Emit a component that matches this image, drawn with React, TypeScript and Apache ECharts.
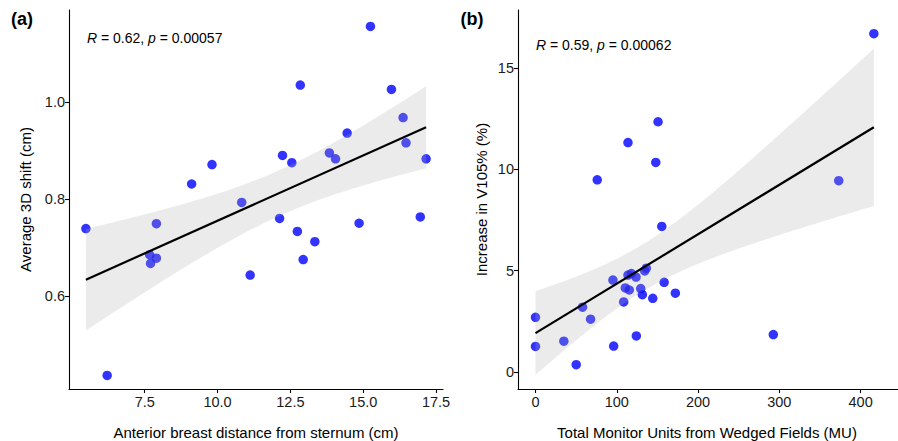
import React, { useEffect, useRef } from "react";
import * as echarts from "echarts";

// Panel (a): anterior breast distance (cm) vs average 3D shift (cm)
const distanceA = [15.25, 12.84, 15.97, 16.37, 14.45, 16.47, 17.16, 13.84, 14.05, 12.23, 12.55, 9.81, 9.11, 10.83, 5.48, 7.90, 7.67, 7.90, 7.70, 11.12, 12.13, 12.74, 13.34, 12.94, 14.86, 16.96, 6.21];
const shiftA = [1.156, 1.035, 1.026, 0.968, 0.936, 0.916, 0.883, 0.895, 0.883, 0.890, 0.875, 0.871, 0.831, 0.793, 0.739, 0.749, 0.685, 0.678, 0.667, 0.643, 0.760, 0.733, 0.712, 0.675, 0.750, 0.763, 0.436];

// Panel (b): total MU from wedged fields vs increase in V105% (%)
const muB = [416.3, 150.8, 113.8, 148.0, 76.0, 373.1, 155.4, 0, 0, 34.9, 50.1, 57.9, 67.8, 96.2, 95.3, 108.5, 110.5, 115.4, 113.8, 118.0, 123.7, 129.5, 131.5, 134.4, 136.4, 144.3, 158.3, 172.1, 124.1, 292.6];
const v105B = [16.70, 12.35, 11.32, 10.34, 9.48, 9.44, 7.18, 2.69, 1.25, 1.51, 0.35, 3.19, 2.60, 1.27, 4.53, 3.45, 4.14, 4.04, 4.78, 4.85, 4.68, 4.11, 3.81, 4.98, 5.12, 3.63, 4.42, 3.88, 1.77, 1.84];

const ticksAX = [7.5, 10, 12.5, 15, 17.5];
const ticksAY = [0.6, 0.8, 1.0];
const ticksBX = [0, 100, 200, 300, 400];
const ticksBY = [0, 5, 10, 15];

const labelA = "{i|R} = 0.62, {i|p} = 0.00057";
const labelB = "{i|R} = 0.59, {i|p} = 0.00062";

const FONT = "'Liberation Sans', Arial, sans-serif";

function tQuantile(df: number) {
  const z = 1.959964;
  const z3 = z * z * z, z5 = z3 * z * z, z7 = z5 * z * z;
  return (
    z +
    (z3 + z) / (4 * df) +
    (5 * z5 + 16 * z3 + 3 * z) / (96 * df * df) +
    (3 * z7 + 19 * z5 + 17 * z3 - 15 * z) / (384 * df * df * df)
  );
}

function fitLm(xs: number[], ys: number[]) {
  const n = xs.length;
  const mx = xs.reduce((a, b) => a + b, 0) / n;
  const my = ys.reduce((a, b) => a + b, 0) / n;
  let sxx = 0, sxy = 0;
  for (let i = 0; i < n; i++) {
    sxx += (xs[i] - mx) ** 2;
    sxy += (xs[i] - mx) * (ys[i] - my);
  }
  const b = sxy / sxx;
  const a = my - b * mx;
  let sse = 0;
  for (let i = 0; i < n; i++) sse += (ys[i] - a - b * xs[i]) ** 2;
  const s = Math.sqrt(sse / (n - 2));
  const t = tQuantile(n - 2);
  const xmin = Math.min(...xs), xmax = Math.max(...xs);
  const upper: number[][] = [], lower: number[][] = [];
  const N = 80;
  for (let k = 0; k < N; k++) {
    const x = xmin + ((xmax - xmin) * k) / (N - 1);
    const yh = a + b * x;
    const se = s * Math.sqrt(1 / n + (x - mx) ** 2 / sxx);
    upper.push([x, yh + t * se]);
    lower.push([x, yh - t * se]);
  }
  return {
    line: [[xmin, a + b * xmin], [xmax, a + b * xmax]],
    upper,
    lower,
  };
}

function makeAxis(gridIndex: number, min: number, max: number, ticks: number[], fmt: (v: number) => string, isX: boolean) {
  return {
    type: "value",
    gridIndex,
    min,
    max,
    splitLine: { show: false },
    axisLine: { show: true, onZero: false, lineStyle: { color: "#000", width: 1.1 } },
    axisTick: { show: true, length: 4, lineStyle: { color: "#000", width: 1.1 }, customValues: ticks },
    axisLabel: {
      show: true,
      customValues: ticks,
      formatter: (v: number) => fmt(v),
      color: "#1a1a1a",
      fontFamily: FONT,
      fontSize: 14.5,
      margin: isX ? 5 : 4,
    },
  };
}

export default function App() {
  const ref = useRef<HTMLDivElement>(null);
  useEffect(() => {
    if (!ref.current) return;
    const chart = echarts.init(ref.current, null, { renderer: "svg" });
    const fa = fitLm(distanceA, shiftA);
    const fb = fitLm(muB, v105B);

    const band = (fit: any, idx: number) => ({
      type: "custom",
      xAxisIndex: idx,
      yAxisIndex: idx,
      z: 3,
      silent: true,
      data: [fit.line[0]],
      renderItem: (params: any, api: any) => {
        const pts = fit.upper.map((p: number[]) => api.coord(p));
        const low = fit.lower.slice().reverse().map((p: number[]) => api.coord(p));
        return {
          type: "polygon",
          shape: { points: pts.concat(low) },
          style: { fill: "rgb(170,170,170)", opacity: 0.235 },
        };
      },
    });

    const scatter = (xs: number[], ys: number[], idx: number) => ({
      type: "scatter",
      xAxisIndex: idx,
      yAxisIndex: idx,
      z: 2,
      symbolSize: 9.5,
      itemStyle: { color: "#0000FF" },
      data: xs.map((x, i) => [x, ys[i]]),
    });

    const line = (fit: any, idx: number) => ({
      type: "line",
      xAxisIndex: idx,
      yAxisIndex: idx,
      z: 4,
      showSymbol: false,
      symbol: "none",
      lineStyle: { color: "#000", width: 2.2 },
      data: fit.line,
    });

    const txt = (x: number, y: number, text: string, extra: any = {}) => ({
      type: "text",
      x,
      y,
      silent: true,
      style: {
        text,
        fill: "#000",
        fontFamily: FONT,
        fontSize: 15,
        align: "center",
        verticalAlign: "middle",
        ...extra,
      },
    });

    chart.setOption({
      animation: false,
      backgroundColor: "#fff",
      grid: [
        { left: 69, top: 10, width: 374, height: 379 },
        { left: 518, top: 10, width: 380, height: 379 },
      ],
      xAxis: [
        makeAxis(0, 4.9, 17.74, ticksAX, (v) => v.toFixed(1), true),
        makeAxis(1, -21.5, 446, ticksBX, (v) => String(Math.round(v)), true),
      ],
      yAxis: [
        makeAxis(0, 0.408, 1.19, ticksAY, (v) => v.toFixed(1), false),
        makeAxis(1, -0.85, 17.87, ticksBY, (v) => String(Math.round(v)), false),
      ],
      series: [
        scatter(distanceA, shiftA, 0),
        band(fa, 0),
        line(fa, 0),
        scatter(muB, v105B, 1),
        band(fb, 1),
        line(fb, 1),
      ],
      graphic: [
        txt(22, 19, "(a)", { fontWeight: "bold", fontSize: 18 }),
        txt(472, 19, "(b)", { fontWeight: "bold", fontSize: 18 }),
        txt(256, 432, "Anterior breast distance from sternum (cm)"),
        txt(707, 432, "Total Monitor Units from Wedged Fields (MU)"),
        { ...txt(25, 199.5, "Average 3D shift (cm)"), rotation: Math.PI / 2 },
        { ...txt(481, 199.5, "Increase in V105% (%)"), rotation: Math.PI / 2 },
        {
          type: "text",
          x: 87,
          y: 38,
          silent: true,
          style: {
            text: labelA,
            fill: "#000",
            fontFamily: FONT,
            fontSize: 14,
            verticalAlign: "middle",
            rich: { i: { fontStyle: "italic", fontFamily: FONT, fontSize: 14 } },
          },
        },
        {
          type: "text",
          x: 536,
          y: 45,
          silent: true,
          style: {
            text: labelB,
            fill: "#000",
            fontFamily: FONT,
            fontSize: 14,
            verticalAlign: "middle",
            rich: { i: { fontStyle: "italic", fontFamily: FONT, fontSize: 14 } },
          },
        },
      ],
    });
    return () => chart.dispose();
  }, []);
  return (
    <div
      ref={ref}
      style={{ position: "fixed", left: 0, top: 0, width: 898, height: 441 }}
    />
  );
}
